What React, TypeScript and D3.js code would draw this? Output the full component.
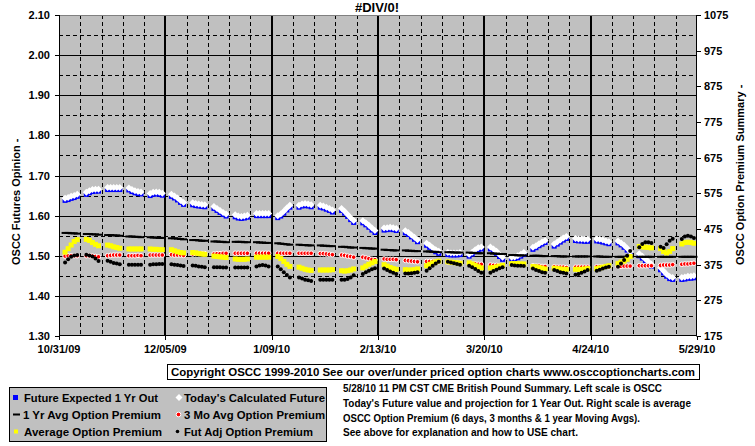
import React from "react";
import * as d3 from "d3";

// ---------- DATA (one row per week, Mon..Fri) ----------
const FIRST_MONDAY = new Date(2009, 10, 2);
const AXIS_START = new Date(2009, 9, 31);
const AXIS_END = new Date(2010, 4, 29);

const futureExpected1Yr = [
  [1.638, 1.64, 1.643, 1.645, 1.648],
  [1.653, 1.657, 1.66, 1.661, 1.661],
  [1.665, 1.665, 1.665, 1.665, 1.665],
  [1.664, 1.66, 1.657, 1.655, 1.654],
  [1.65, 1.653, 1.654, 1.653, 1.651],
  [1.648, 1.644, 1.639, 1.633, 1.628],
  [1.627, 1.625, 1.624, 1.623, 1.622],
  [1.618, 1.613, 1.608, 1.603, 1.599],
  [1.597, 1.594, 1.593, 1.594, 1.596],
  [1.6, 1.6, 1.6, 1.6, 1.6],
  [1.595, 1.599, 1.606, 1.614, 1.621],
  [1.621, 1.624, 1.625, 1.624, 1.622],
  [1.621, 1.619, 1.616, 1.613, 1.609],
  [1.613, 1.606, 1.598, 1.59, 1.583],
  [1.582, 1.577, 1.571, 1.564, 1.558],
  [1.564, 1.565, 1.566, 1.565, 1.563],
  [1.557, 1.553, 1.547, 1.541, 1.535],
  [1.526, 1.521, 1.515, 1.51, 1.506],
  [1.503, 1.502, 1.502, 1.502, 1.503],
  [1.499, 1.504, 1.51, 1.515, 1.517],
  [1.517, 1.512, 1.506, 1.498, 1.491],
  [1.491, 1.492, 1.495, 1.499, 1.503],
  [1.516, 1.52, 1.525, 1.529, 1.533],
  [1.524, 1.529, 1.534, 1.539, 1.543],
  [1.538, 1.537, 1.537, 1.536, 1.536],
  [1.537, 1.536, 1.534, 1.532, 1.53],
  [1.532, 1.527, 1.521, 1.514, 1.505],
  [1.5, 1.494, 1.487, 1.48, 1.474],
  [1.465, 1.457, 1.449, 1.443, 1.441],
  [1.441, 1.442, 1.444, 1.444, 1.445],
];

const todaysCalculated = [
  [1.643, 1.645, 1.648, 1.65, 1.653],
  [1.658, 1.662, 1.665, 1.666, 1.666],
  [1.67, 1.67, 1.67, 1.67, 1.67],
  [1.669, 1.665, 1.662, 1.66, 1.659],
  [1.655, 1.658, 1.659, 1.658, 1.656],
  [1.653, 1.649, 1.644, 1.638, 1.633],
  [1.632, 1.63, 1.629, 1.628, 1.627],
  [1.623, 1.618, 1.613, 1.608, 1.604],
  [1.602, 1.599, 1.598, 1.599, 1.601],
  [1.605, 1.605, 1.605, 1.605, 1.605],
  [1.6, 1.604, 1.611, 1.619, 1.626],
  [1.626, 1.629, 1.63, 1.629, 1.627],
  [1.626, 1.624, 1.621, 1.618, 1.614],
  [1.618, 1.611, 1.603, 1.595, 1.588],
  [1.587, 1.582, 1.576, 1.569, 1.563],
  [1.569, 1.57, 1.571, 1.57, 1.568],
  [1.562, 1.558, 1.552, 1.546, 1.54],
  [1.531, 1.526, 1.52, 1.515, 1.511],
  [1.508, 1.507, 1.507, 1.507, 1.508],
  [1.504, 1.509, 1.515, 1.52, 1.522],
  [1.522, 1.517, 1.511, 1.503, 1.496],
  [1.496, 1.497, 1.5, 1.504, 1.508],
  [1.521, 1.525, 1.53, 1.534, 1.538],
  [1.529, 1.534, 1.539, 1.544, 1.548],
  [1.543, 1.542, 1.542, 1.541, 1.541],
  [1.542, 1.541, 1.539, 1.537, 1.535],
  [1.537, 1.532, 1.526, 1.519, 1.51],
  [1.505, 1.499, 1.492, 1.485, 1.479],
  [1.47, 1.462, 1.454, 1.448, 1.446],
  [1.446, 1.447, 1.449, 1.449, 1.45],
];

const oneYrAvgPremium = [
  [464, 464, 463, 463, 462],
  [461, 461, 460, 460, 459],
  [458, 458, 457, 457, 456],
  [454, 454, 453, 453, 452],
  [452, 451, 451, 450, 450],
  [449, 449, 448, 447, 446],
  [444, 444, 443, 442, 442],
  [440, 440, 439, 439, 438],
  [439, 439, 439, 438, 438],
  [438, 437, 437, 436, 436],
  [435, 434, 433, 432, 431],
  [431, 430, 430, 429, 429],
  [429, 428, 428, 427, 427],
  [425, 425, 424, 423, 423],
  [422, 421, 421, 420, 420],
  [417, 416, 416, 415, 415],
  [415, 414, 414, 413, 413],
  [412, 412, 411, 411, 410],
  [410, 410, 409, 409, 409],
  [409, 408, 408, 407, 407],
  [407, 406, 406, 405, 405],
  [402, 402, 401, 401, 401],
  [400, 400, 400, 399, 399],
  [399, 399, 398, 398, 398],
  [398, 398, 398, 398, 398],
  [398, 398, 397, 397, 397],
  [397, 397, 397, 397, 397],
  [397, 397, 397, 397, 397],
  [397, 397, 397, 397, 397],
  [397, 397, 397, 397, 397],
];

const threeMoAvgPremium = [
  [399, 400, 400, 400, 400],
  [400, 400, 399, 398, 397],
  [400, 401, 402, 402, 402],
  [400, 400, 400, 401, 400],
  [402, 402, 402, 402, 402],
  [403, 402, 402, 402, 401],
  [405, 406, 406, 406, 406],
  [405, 406, 406, 407, 407],
  [407, 407, 407, 407, 407],
  [407, 407, 407, 407, 407],
  [407, 407, 407, 407, 407],
  [407, 407, 407, 407, 407],
  [406, 406, 405, 404, 403],
  [402, 401, 399, 398, 396],
  [396, 394, 392, 390, 389],
  [391, 390, 390, 390, 389],
  [387, 386, 385, 384, 383],
  [384, 384, 384, 383, 383],
  [382, 381, 381, 381, 380],
  [378, 377, 377, 376, 376],
  [374, 373, 373, 372, 372],
  [376, 375, 375, 375, 374],
  [372, 371, 371, 370, 370],
  [369, 368, 368, 368, 367],
  [368, 368, 368, 368, 368],
  [369, 369, 369, 369, 369],
  [370, 370, 371, 371, 371],
  [372, 372, 372, 372, 372],
  [373, 374, 374, 374, 375],
  [376, 377, 377, 378, 379],
];

const averagePremium = [
  [410, 420, 430, 440, 445],
  [446, 443, 437, 432, 428],
  [430, 428, 425, 423, 421],
  [419, 419, 419, 419, 419],
  [419, 418, 418, 417, 417],
  [417, 414, 411, 409, 408],
  [409, 408, 406, 405, 404],
  [399, 398, 397, 396, 395],
  [391, 390, 390, 390, 391],
  [396, 396, 396, 396, 396],
  [398, 392, 384, 376, 370],
  [368, 365, 362, 360, 359],
  [360, 360, 360, 360, 361],
  [358, 357, 358, 360, 363],
  [366, 371, 376, 380, 384],
  [375, 371, 367, 364, 362],
  [361, 360, 360, 361, 363],
  [372, 376, 380, 383, 385],
  [383, 382, 381, 380, 379],
  [380, 377, 373, 369, 366],
  [366, 367, 369, 371, 373],
  [378, 378, 378, 377, 377],
  [370, 369, 367, 365, 363],
  [365, 364, 363, 362, 362],
  [362, 362, 362, 363, 364],
  [364, 366, 368, 370, 372],
  [378, 382, 385, 390, 398],
  [426, 425, 424, 423, 422],
  [420, 412, 408, 412, 420],
  [433, 437, 438, 437, 435],
];

const futAdjPremium = [
  [381, 390, 397, 401, 402],
  [403, 401, 398, 392, 385],
  [386, 383, 380, 378, 376],
  [375, 375, 375, 375, 375],
  [375, 376, 376, 377, 377],
  [376, 375, 374, 373, 371],
  [373, 372, 370, 369, 368],
  [368, 368, 368, 367, 367],
  [367, 367, 367, 367, 367],
  [370, 373, 374, 373, 370],
  [370, 362, 354, 346, 339],
  [339, 336, 333, 331, 329],
  [333, 333, 333, 333, 333],
  [333, 333, 335, 339, 345],
  [349, 354, 358, 362, 365],
  [364, 360, 356, 352, 349],
  [350, 350, 351, 352, 354],
  [358, 365, 372, 378, 383],
  [383, 381, 379, 377, 375],
  [372, 368, 363, 357, 352],
  [352, 357, 361, 365, 368],
  [374, 373, 372, 372, 371],
  [364, 360, 357, 354, 352],
  [360, 357, 354, 352, 350],
  [347, 349, 352, 356, 360],
  [358, 361, 364, 367, 369],
  [369, 378, 388, 400, 413],
  [424, 433, 438, 438, 436],
  [425, 422, 432, 442, 448],
  [447, 454, 456, 454, 450],
];

const leftTicks = [1.3, 1.4, 1.5, 1.6, 1.7, 1.8, 1.9, 2.0, 2.1];
const rightTicks = [175, 275, 375, 475, 575, 675, 775, 875, 975, 1075];

const titleText = "#DIV/0!";
const leftTitle = "OSCC Futures Opinion -";
const rightTitle = "OSCC Option Premium Summary -";
const copyrightText =
  "Copyright OSCC 1999-2010 See our over/under priced option charts www.osccoptioncharts.com";
const descLines = [
  "5/28/10 11 PM CST CME British Pound Summary. Left scale is OSCC",
  "Today's Future value and projection for 1 Year Out. Right scale is average",
  "OSCC Option Premium (6  days, 3 months & 1 year Moving  Avgs).",
  "See above for explanation and how to USE chart.",
];
const legendLabels = [
  "Future Expected 1 Yr Out",
  "Today's Calculated Future",
  "1 Yr Avg Option Premium",
  "3 Mo Avg Option Premium",
  "Average Option Premium",
  "Fut Adj Option Premium",
];

// ---------- LAYOUT ----------
const W = 755;
const H = 446;
const PL = 59;
const PR = 697;
const PT = 15;
const PB = 336;
const FONT = "Arial, 'Liberation Sans', Helvetica, sans-serif";

const tradingDays: Date[] = d3
  .range(futureExpected1Yr.length)
  .flatMap((w) => d3.range(5).map((d) => d3.timeDay.offset(FIRST_MONDAY, w * 7 + d)));

function pts(rows: number[][]) {
  return rows.flat().map((v, i) => ({ d: tradingDays[i], v }));
}

export default function App() {
  const x = d3.scaleTime().domain([AXIS_START, AXIS_END]).range([PL, PR]);
  const yL = d3.scaleLinear().domain([1.3, 2.1]).range([PB, PT]);
  const yR = d3.scaleLinear().domain([175, 1075]).range([PB, PT]);

  const totalDays = d3.timeDay.count(AXIS_START, AXIS_END);
  const majorDates = d3.range(0, totalDays + 1, 35).map((k) => d3.timeDay.offset(AXIS_START, k));
  const weekDates = d3
    .range(7, totalDays, 7)
    .filter((k) => k % 35 !== 0)
    .map((k) => d3.timeDay.offset(AXIS_START, k));
  const fmt = d3.timeFormat("%-m/%d/%y");

  const solidY = d3.range(1.4, 2.05, 0.1);
  const dashY = d3.range(1.35, 2.1, 0.1);

  const blue = pts(futureExpected1Yr);
  const white = pts(todaysCalculated);
  const oneYr = pts(oneYrAvgPremium);
  const threeMo = pts(threeMoAvgPremium);
  const avg = pts(averagePremium);
  const futAdj = pts(futAdjPremium);

  const diamond = (cx: number, cy: number, r: number) =>
    `M${cx},${cy - r}L${cx + r},${cy}L${cx},${cy + r}L${cx - r},${cy}Z`;

  return (
    <svg
      width={W}
      height={H}
      style={{ position: "absolute", left: 0, top: 0, background: "#fff" }}
      fontFamily={FONT}
      fontWeight="bold"
    >
      <rect x={0} y={0} width={W} height={H} fill="#fff" />
      {/* plot area */}
      <rect x={PL} y={PT} width={PR - PL} height={PB - PT} fill="#C0C0C0" />
      {/* dashed gridlines */}
      {dashY.map((v, i) => (
        <line key={"hd" + i} x1={PL} x2={PR} y1={Math.round(yL(v)) + 0.5} y2={Math.round(yL(v)) + 0.5}
          stroke="#000" strokeWidth={1} strokeDasharray="4,3" />
      ))}
      {weekDates.map((d, i) => (
        <line key={"vd" + i} x1={Math.round(x(d)) + 0.5} x2={Math.round(x(d)) + 0.5} y1={PT} y2={PB}
          stroke="#000" strokeWidth={1} strokeDasharray="4,3" />
      ))}
      {solidY.map((v, i) => (
        <line key={"hs" + i} x1={PL} x2={PR} y1={Math.round(yL(v)) + 0.5} y2={Math.round(yL(v)) + 0.5}
          stroke="#000" strokeWidth={1} />
      ))}
      {majorDates.slice(1, -1).map((d, i) => (
        <line key={"vs" + i} x1={Math.round(x(d))} x2={Math.round(x(d))} y1={PT} y2={PB}
          stroke="#000" strokeWidth={2} />
      ))}

      {/* series */}
      {blue.map((p, i) => (
        <rect key={"b" + i} x={x(p.d) - 2.5} y={yL(p.v) - 2.5} width={5} height={5} fill="#0000FF" />
      ))}
      {white.map((p, i) => (
        <path key={"w" + i} d={diamond(x(p.d), yL(p.v), 3.5)} fill="#FFFFFF" />
      ))}
      {oneYr.map((p, i) => (
        <rect key={"o" + i} x={x(p.d) - 3.5} y={yR(p.v) - 1} width={7} height={2} fill="#000" />
      ))}
      {threeMo.map((p, i) => (
        <circle key={"t" + i} cx={x(p.d)} cy={yR(p.v)} r={2.3} fill="#FF0000" stroke="#FFFFFF" strokeWidth={1} />
      ))}
      {avg.map((p, i) => (
        <rect key={"a" + i} x={x(p.d) - 2.5} y={yR(p.v) - 2.5} width={5} height={5} fill="#FFFF00" />
      ))}
      {futAdj.map((p, i) => (
        <circle key={"f" + i} cx={x(p.d)} cy={yR(p.v)} r={2} fill="#000" />
      ))}

      {/* frame + axes */}
      <rect x={PL + 0.5} y={PT + 0.5} width={PR - PL - 1} height={PB - PT - 1} fill="none" stroke="#808080" />
      <line x1={PL + 0.5} x2={PL + 0.5} y1={PT} y2={PB + 0.5} stroke="#000" />
      <line x1={PR - 0.5} x2={PR - 0.5} y1={PT} y2={PB + 0.5} stroke="#000" />
      <line x1={PL} x2={PR} y1={PB - 0.5} y2={PB - 0.5} stroke="#000" />

      {leftTicks.map((v, i) => (
        <g key={"lt" + i}>
          <line x1={PL - 4} x2={PL} y1={Math.round(yL(v)) + 0.5} y2={Math.round(yL(v)) + 0.5} stroke="#000" />
          <text x={50} y={yL(v) + 4} textAnchor="end" fontSize={11}>{v.toFixed(2)}</text>
        </g>
      ))}
      {rightTicks.map((v, i) => (
        <g key={"rt" + i}>
          <line x1={PR} x2={PR + 4} y1={Math.round(yR(v)) + 0.5} y2={Math.round(yR(v)) + 0.5} stroke="#000" />
          <text x={704} y={yR(v) + 4} textAnchor="start" fontSize={11}>{v}</text>
        </g>
      ))}
      {majorDates.map((d, i) => (
        <g key={"xt" + i}>
          <line x1={Math.round(x(d)) + 0.5} x2={Math.round(x(d)) + 0.5} y1={PB} y2={PB + 4} stroke="#000" />
          <text x={x(d)} y={353} textAnchor="middle" fontSize={11}>{fmt(d)}</text>
        </g>
      ))}

      <text x={377} y={12} textAnchor="middle" fontSize={13}>{titleText}</text>
      <text transform="translate(20,265) rotate(-90)" fontSize={11}>{leftTitle}</text>
      <text transform="translate(744,265) rotate(-90)" fontSize={11}>{rightTitle}</text>

      {/* copyright box */}
      <rect x={167.5} y={364.5} width={532} height={15} fill="#fff" stroke="#000" />
      <text x={171} y={376} fontSize={11} textLength={524} lengthAdjust="spacingAndGlyphs">{copyrightText}</text>

      {/* legend */}
      <rect x={9.5} y={387.5} width={317} height={54} fill="#C0C0C0" stroke="#000" />
      <rect x={13} y={395} width={5} height={5} fill="#0000FF" />
      <text x={24} y={401.5} fontSize={11} textLength={134} lengthAdjust="spacingAndGlyphs">{legendLabels[0]}</text>
      <path d={diamond(179, 397.5, 3.5)} fill="#fff" />
      <text x={184} y={401.5} fontSize={11} textLength={141} lengthAdjust="spacingAndGlyphs">{legendLabels[1]}</text>
      <rect x={13} y={413.5} width={7} height={2} fill="#000" />
      <text x={23} y={418.5} fontSize={11} textLength={138} lengthAdjust="spacingAndGlyphs">{legendLabels[2]}</text>
      <circle cx={178.5} cy={414.5} r={2.3} fill="#FF0000" stroke="#fff" />
      <text x={184} y={418.5} fontSize={11} textLength={141} lengthAdjust="spacingAndGlyphs">{legendLabels[3]}</text>
      <rect x={14} y={429.5} width={4} height={4} fill="#FFFF00" />
      <text x={24} y={435.5} fontSize={11} textLength={138} lengthAdjust="spacingAndGlyphs">{legendLabels[4]}</text>
      <circle cx={177.5} cy={431.5} r={1.8} fill="#000" />
      <text x={184} y={435.5} fontSize={11} textLength={129} lengthAdjust="spacingAndGlyphs">{legendLabels[5]}</text>

      {/* description */}
      {descLines.map((t, i) => (
        <text key={"dl" + i} x={343} y={392 + i * 14.8} fontSize={11}
          textLength={[319, 348, 297, 235][i]} lengthAdjust="spacingAndGlyphs">{t}</text>
      ))}
    </svg>
  );
}
